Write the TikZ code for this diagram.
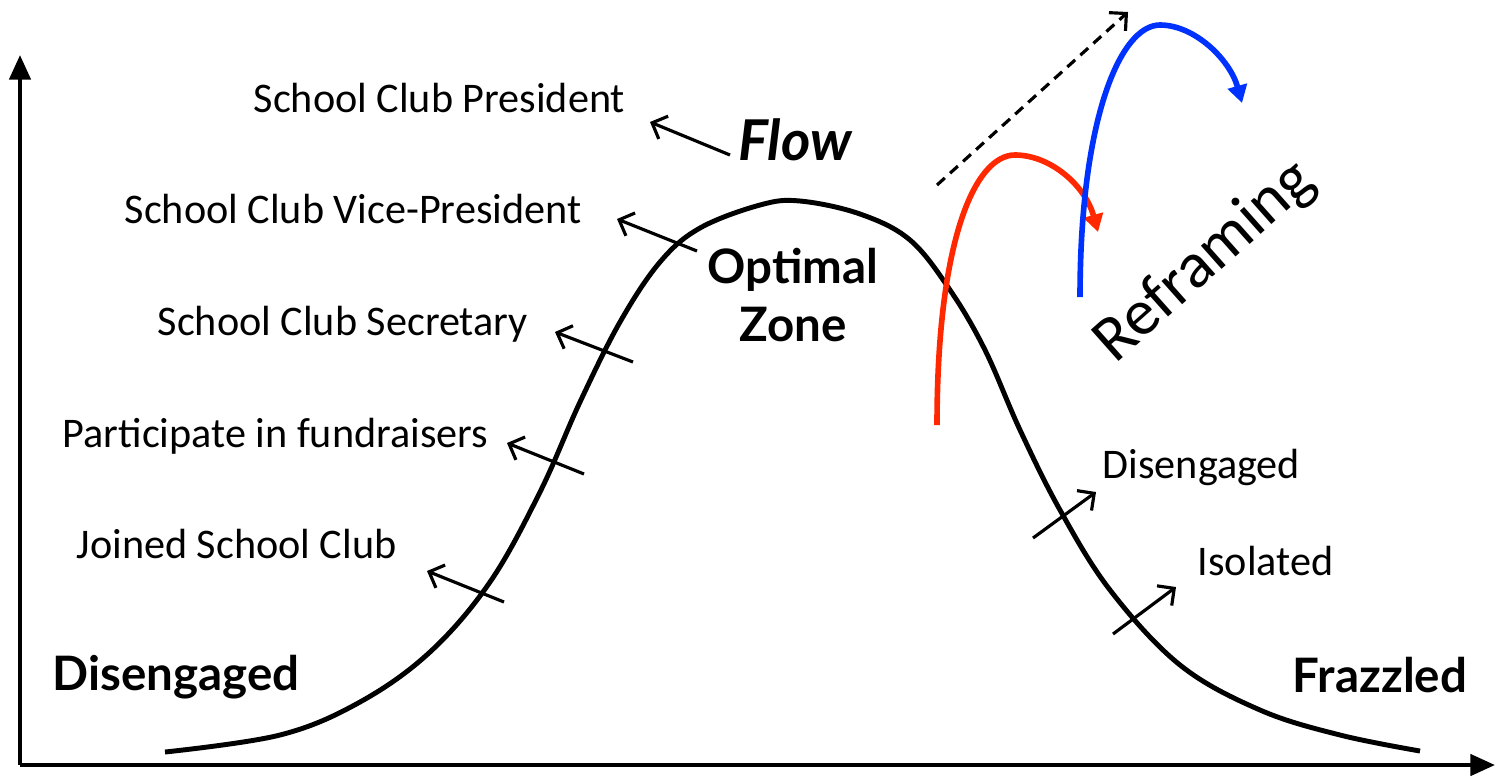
\documentclass[tikz,border=0pt]{standalone}
\usepackage{fontspec}
\setmainfont{Carlito}
\newfontfamily\gillfont{Lato}
\usetikzlibrary{arrows.meta}

\begin{document}
\begin{tikzpicture}[x=0.01cm,y=-0.01cm,>=Stealth,font=\fontsize{12}{14}\selectfont]
\tikzstyle{lbl}=[anchor=base west,inner sep=0pt]
\tikzstyle{big}=[inner sep=0pt,font=\gillfont\bfseries\fontsize{13.5}{16.5}\selectfont]
\tikzstyle{ptr}=[line width=0.9pt,-{Straight Barb[length=3.5pt,width=7pt]}]
\tikzstyle{jump}=[line width=1.6pt,-{Triangle[length=5pt,width=5.5pt]}]
\useasboundingbox (0,0) rectangle (1498,775);
% axes
\coordinate (o) at (20,765);
\coordinate (ytop) at (20,55);
\coordinate (xend) at (1495,765);
\draw[line width=1.2pt,-{Triangle[length=7pt,width=6pt]}] (o) -- (ytop);
\draw[line width=1.2pt,-{Triangle[length=7pt,width=6pt]}] (o) -- (xend);
% bell curve
\draw[line width=1.4pt] plot[smooth,tension=0.6] coordinates {(165,752) (280,735) (360,702) (430,652) (490,582) (540,492) (580,402) (620,322) (660,262) (700,228) (760,205) (800,201) (860,214) (910,240) (950,290) (985,350) (1020,430) (1060,510) (1110,590) (1180,665) (1260,710) (1340,735) (1420,751)};
% zone labels
\node[big] (dis) at (176,677) {Disengaged};
\node[big] (fra) at (1380,675) {Frazzled};
\node[big,align=center] (opt) at (793,295) {Optimal\\Zone};
\node[inner sep=0pt,font=\gillfont\bfseries\itshape\fontsize{16}{19}\selectfont] (flow) at (795,140) {Flow};
% steps up
\node[lbl] (pres) at (253,112) {School Club President};
\node[lbl] (vice) at (124,223) {School Club Vice-President};
\node[lbl] (secr) at (157,335) {School Club Secretary};
\node[lbl] (fund) at (62,447) {Participate in fundraisers};
\node[lbl] (join) at (76,558) {Joined School Club};
\coordinate (a1) at (730,155); \coordinate (b1) at (650,122);
\coordinate (a2) at (697,251); \coordinate (b2) at (617,219);
\coordinate (a3) at (633,362); \coordinate (b3) at (555,332);
\coordinate (a4) at (584,474); \coordinate (b4) at (507,443);
\coordinate (a5) at (504,602); \coordinate (b5) at (427,571);
\draw[ptr] (a1) -- (b1);
\draw[ptr] (a2) -- (b2);
\draw[ptr] (a3) -- (b3);
\draw[ptr] (a4) -- (b4);
\draw[ptr] (a5) -- (b5);
% steps down
\node[lbl] (dis2) at (1102,478) {Disengaged};
\node[lbl] (iso) at (1197,575) {Isolated};
\coordinate (c1) at (1033,538); \coordinate (d1) at (1096,492);
\coordinate (c2) at (1113,634); \coordinate (d2) at (1176,587);
\draw[ptr] (c1) -- (d1);
\draw[ptr] (c2) -- (d2);
% reframing
\coordinate (ds) at (937,185); \coordinate (de) at (1128,12);
\draw[ptr,dashed,dash pattern=on 3pt off 2pt] (ds) -- (de);
\coordinate (r0) at (937,425); \coordinate (r1) at (1098,232);
\draw[jump,color={rgb,255:red,255;green,40;blue,0}] (r0) .. controls (937,240) and (975,155) .. (1015,155) .. controls (1050,155) and (1085,185) .. (r1);
\coordinate (u0) at (1080,297); \coordinate (u1) at (1242,103);
\draw[jump,color={rgb,255:red,0;green,50;blue,255}] (u0) .. controls (1080,120) and (1120,25) .. (1160,25) .. controls (1195,25) and (1230,60) .. (u1);
\node[rotate=41.6,inner sep=0pt,font=\fontsize{18.5}{22}\selectfont] (refr) at (1205,262) {Reframing};
\end{tikzpicture}
\end{document}
